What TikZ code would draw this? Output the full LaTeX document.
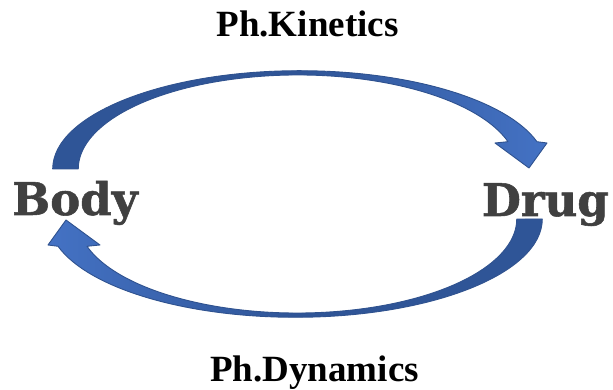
\documentclass[tikz,border=0pt]{standalone}
\usepackage{fontspec}
\setmainfont{Liberation Serif}
\newfontfamily\slabfont[BoldFeatures={FakeBold=1.2}]{DejaVu Serif}
\usepackage{xcolor}
\definecolor{arrowdark}{HTML}{2F5597}
\definecolor{arrowlight}{HTML}{4472C4}
\definecolor{arrowline}{HTML}{2F528F}
\definecolor{labelgray}{HTML}{404040}

\begin{document}
\begin{tikzpicture}[x=1pt, y=1pt,
  band/.style={draw=arrowline, line width=0.9pt, line join=round},
  side/.style={inner sep=0pt, text=labelgray, font=\slabfont\bfseries\fontsize{45}{50}\selectfont},
  phase/.style={inner sep=0pt, font=\bfseries\fontsize{37}{44}\selectfont}
]
\useasboundingbox (0,0) rectangle (613,390);

% -------- Nodos --------
\node[side, anchor=base west] (body) at (12,175) {Body};
\node[side, anchor=base east] (drug) at (609,174) {Drug};
\node[phase, anchor=base] (kinetics) at (307.5,353) {Ph.Kinetics};
\node[phase, anchor=base] (dynamics) at (314.5,8) {Ph.Dynamics};

% -------- Flecha superior (Body -> Drug) --------
\coordinate (kinbase) at (52.7,221);
\coordinate (kinbarbR) at (547,247);
\coordinate (kintip) at (529,222);
\coordinate (kinbarbL) at (495,247);
\coordinate (kinneck) at (508,248.3);

\path[band, left color=arrowdark, right color=arrowlight, middle color=arrowdark]
  (kinbase) arc[start angle=180, end angle=16.12, x radius=247pt, y radius=98.3pt]
  -- (kinbarbR) -- (kintip) -- (kinbarbL) -- (kinneck)
  arc[start angle=16.88, end angle=180, x radius=219.6pt, y radius=94pt]
  -- cycle;

% -------- Flecha inferior (Drug -> Body) --------
\coordinate (dynbase) at (542.3,171);
\coordinate (dynbarbL) at (48,145);
\coordinate (dyntip) at (66,170);
\coordinate (dynbarbR) at (100,145);
\coordinate (dynneck) at (87,143.7);

\path[band, left color=arrowlight, right color=arrowdark, middle color=arrowdark]
  (dynbase) arc[start angle=0, end angle=-163.88, x radius=247pt, y radius=98.3pt]
  -- (dynbarbL) -- (dyntip) -- (dynbarbR) -- (dynneck)
  arc[start angle=-163.12, end angle=0, x radius=219.6pt, y radius=94pt]
  -- cycle;

\end{tikzpicture}
\end{document}
